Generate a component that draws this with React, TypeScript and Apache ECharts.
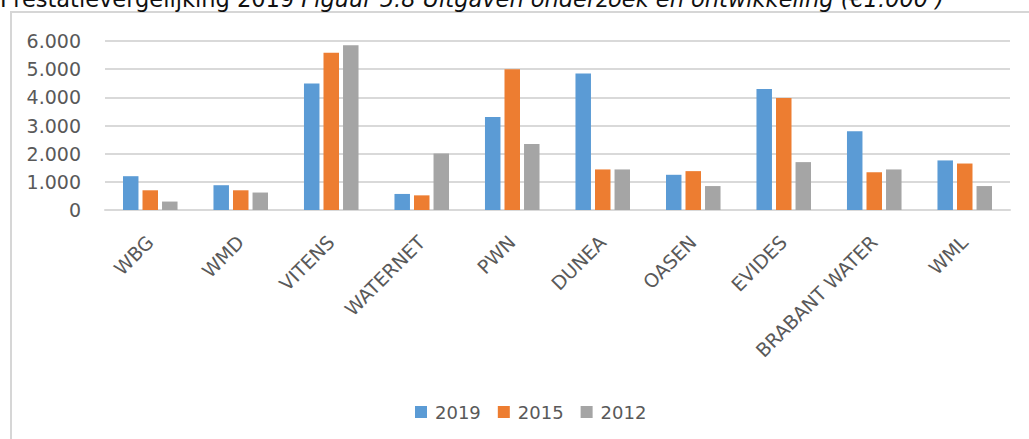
import React, { useEffect, useRef } from "react";
import * as echarts from "echarts";

const categories = ["WBG", "WMD", "VITENS", "WATERNET", "PWN", "DUNEA", "OASEN", "EVIDES", "BRABANT WATER", "WML"];
const values2019 = [1200, 880, 4490, 570, 3300, 4850, 1250, 4300, 2800, 1760];
const values2015 = [700, 700, 5580, 520, 5000, 1440, 1380, 3980, 1340, 1650];
const values2012 = [300, 620, 5850, 2010, 2340, 1440, 850, 1700, 1440, 850];
const seriesNames = ["2019", "2015", "2012"];
const colors = ["#5B9BD5", "#ED7D31", "#A5A5A5"];
const titleNormal = "Prestatievergelijking 2019 ";
const titleItalic = "Figuur 5.8 Uitgaven onderzoek en ontwikkeling (€1.000 )";

const FONT = "DejaVu Sans";

export default function App() {
  const ref = useRef<HTMLDivElement>(null);
  useEffect(() => {
    document.body.style.margin = "0";
    const chart = echarts.init(ref.current!, null, { renderer: "svg" });
    const data = [values2019, values2015, values2012];
    chart.setOption({
      animation: false,
      graphic: [
        {
          type: "rect",
          shape: { x: 11, y: 12, width: 1100, height: 500 },
          style: { fill: "none", stroke: "#d6d6d6", lineWidth: 2 },
          silent: true,
        },
        {
          type: "text",
          x: 0,
          y: -1,
          style: {
            text: "{n|" + titleNormal + "}{i|" + titleItalic + "}",
            verticalAlign: "middle",
            rich: {
              n: { fontFamily: FONT, fontSize: 22.5, fill: "#111" },
              i: { fontFamily: FONT, fontSize: 22.5, fontStyle: "italic", fill: "#111" },
            },
          },
        },
      ],
      legend: {
        left: 410,
        top: 398,
        itemWidth: 12,
        itemHeight: 12,
        itemGap: 17,
        icon: "rect",
        data: seriesNames,
        textStyle: { fontFamily: FONT, fontSize: 18, color: "#595959", padding: [0, 0, 0, 3] },
      },
      grid: { left: 105, right: 19, top: 41, bottom: 229 },
      xAxis: {
        type: "category",
        data: categories,
        axisLine: { lineStyle: { color: "#d9d9d9", width: 2 } },
        axisTick: { show: false },
        axisLabel: {
          interval: 0,
          rotate: 45,
          align: "right",
          verticalAlign: "top",
          margin: 15,
          padding: [0, 10, 0, 0],
          fontFamily: FONT,
          fontSize: 19,
          color: "#595959",
        },
      },
      yAxis: {
        type: "value",
        min: 0,
        max: 6000,
        interval: 1000,
        axisLine: { show: false },
        axisTick: { show: false },
        splitLine: { lineStyle: { color: "#d9d9d9", width: 2 } },
        axisLabel: {
          margin: 24,
          fontFamily: FONT,
          fontSize: 19,
          color: "#595959",
          formatter: (v: number) => v.toLocaleString("de-DE"),
        },
      },
      series: seriesNames.map((name, i) => ({
        name,
        type: "bar",
        data: data[i],
        barWidth: 15.5,
        barGap: "26%",
        itemStyle: { color: colors[i] },
      })),
    });
    return () => chart.dispose();
  }, []);
  return <div ref={ref} style={{ width: 1029, height: 439 }} />;
}
